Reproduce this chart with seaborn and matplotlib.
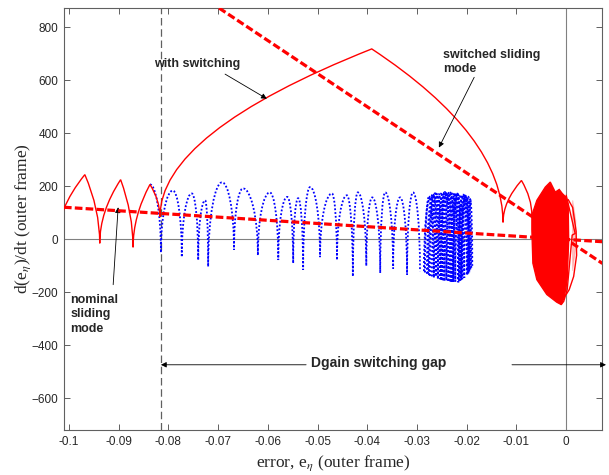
import matplotlib
matplotlib.use("Agg")
import matplotlib.pyplot as plt
from matplotlib.path import Path
from matplotlib.patches import PathPatch
import pandas as pd
import seaborn as sns

sns.set_style("ticks")
plt.rcParams["font.family"] = ["Liberation Sans", "DejaVu Sans"]
plt.rcParams["mathtext.fontset"] = "stix"

RED = "#ff0000"
BLUE = "#0000ff"
GREY = "#606060"

# sliding-mode lines (end points)
nominal_x = [-0.101, 0.0073]
nominal_y = [121, -9]
switched_x = [-0.0698, 0.0073]
switched_y = [872, -91]

# trajectory with D-gain switching: turning points (troughs / cusps)
switch_x = [-0.1025, -0.0968, -0.0938, -0.0896, -0.0871, -0.0837, -0.0817,
            -0.0391, -0.0127, -0.0090, -0.0069]
switch_y = [-20, 244, -15, 225, -30, 207, 85, 718, 64, 222, 90]

# limit-cycle region of the switched trajectory near the origin
cycle_x = [-0.0069, -0.0059, -0.0042, -0.0032, -0.0022, -0.0014, -0.0008, 0.0000,
           0.0004, 0.0005, 0.0002, -0.0004, -0.0010, -0.0019, -0.0039, -0.0059,
           -0.0067, -0.0069]
cycle_y = [91, 147, 197, 216, 178, 188, 173, 158, 128, -3, -152, -220, -246,
           -237, -208, -152, -90, 35]
outer_loop1_x = [-0.0010, -0.0005, 0.0002, 0.0012, 0.0018, 0.0018, 0.0012, 0.0000]
outer_loop1_y = [-246, -234, -190, -115, -28, 72, 147, 166]
outer_loop2_x = [0.0004, 0.0013, 0.0020, 0.0021, 0.0015, 0.0006, 0.0000]
outer_loop2_y = [150, 120, 30, -60, -140, -190, -208]

# trajectory without switching: alternating peaks and troughs
plain_x = [-0.0837, -0.0815, -0.0791, -0.0773, -0.0753, -0.0740, -0.0726, -0.0720,
           -0.0692, -0.0668, -0.0650, -0.0620, -0.0596, -0.0579, -0.0561, -0.0549,
           -0.0539, -0.0529, -0.0515, -0.0495, -0.0471, -0.0461, -0.0441, -0.0429,
           -0.0419, -0.0402, -0.0390, -0.0374, -0.0364, -0.0348, -0.0334, -0.0320,
           -0.0308, -0.0294]
plain_y = [207, -50, 184, -67, 173, -78, 147, -103, 215, -40, 192, -60, 177, -78,
           160, -90, 155, -115, 197, -67, 173, -78, 166, -140, 177, -100, 158, -127,
           177, -110, 158, -134, 177, -120]

# dense oscillation of the unswitched trajectory (several passes)
pass_a_x = [-0.0286, -0.0272, -0.0262, -0.0252, -0.0241, -0.0233, -0.0223, -0.0215,
            -0.0205, -0.0197, -0.0191]
pass_a_y = [-120, 165, -140, 172, -155, 176, -160, 170, -145, 160, -115]
pass_b_x = [-0.0280, -0.0268, -0.0258, -0.0248, -0.0237, -0.0229, -0.0217, -0.0209,
            -0.0199, -0.0193, -0.0189]
pass_b_y = [-130, 170, -150, 175, -160, 172, -162, 168, -135, 150, -100]
pass_c_x = [-0.0276, -0.0264, -0.0252, -0.0244, -0.0231, -0.0223, -0.0213, -0.0205,
            -0.0195]
pass_c_y = [-135, 173, -155, 178, -163, 174, -155, 165, -125]
pass_d_x = [-0.0270, -0.0260, -0.0248, -0.0239, -0.0227, -0.0219, -0.0209, -0.0201,
            -0.0193]
pass_d_y = [-140, 170, -158, 175, -160, 172, -150, 162, -120]
pass_e_x = [-0.0284, -0.0276, -0.0266, -0.0256, -0.0245, -0.0235, -0.0227, -0.0219,
            -0.0211, -0.0201, -0.0193]
pass_e_y = [-125, 160, -145, 170, -158, 178, -163, 174, -150, 165, -118]
pass_f_x = [-0.0278, -0.0266, -0.0254, -0.0245, -0.0233, -0.0225, -0.0215, -0.0207,
            -0.0197, -0.0191]
pass_f_y = [-128, 168, -150, 176, -162, 176, -160, 168, -130, 150]
pass_g_x = [-0.0274, -0.0262, -0.0250, -0.0241, -0.0229, -0.0221, -0.0211, -0.0203,
            -0.0195]
pass_g_y = [-138, 172, -156, 177, -163, 175, -152, 164, -122]

x_ticks = [-0.1, -0.09, -0.08, -0.07, -0.06, -0.05, -0.04, -0.03, -0.02, -0.01, 0]
x_tick_labels = ["-0.1", "-0.09", "-0.08", "-0.07", "-0.06", "-0.05", "-0.04",
                 "-0.03", "-0.02", "-0.01", "0"]
y_ticks = [-600, -400, -200, 0, 200, 400, 600, 800]
gap_start = -0.0815


def cusp_path(xs, ys):
    """Phase-plane arcs: vertical tangent at each trough, pointed at each peak."""
    verts = [(xs[0], ys[0])]
    codes = [Path.MOVETO]
    for x0, y0, x1, y1 in zip(xs[:-1], ys[:-1], xs[1:], ys[1:]):
        cx = x0 if y0 < y1 else x1
        verts += [(cx, (y0 + y1) / 2.0), (x1, y1)]
        codes += [Path.CURVE3, Path.CURVE3]
    return Path(verts, codes)


def round_path(xs, ys):
    """Phase-plane arcs: vertical at each trough, rounded over each peak."""
    verts = [(xs[0], ys[0])]
    codes = [Path.MOVETO]
    for x0, y0, x1, y1 in zip(xs[:-1], ys[:-1], xs[1:], ys[1:]):
        if y0 < y1:
            c1 = (x0, y0 + 0.6 * (y1 - y0))
            c2 = (x1 - 0.5 * (x1 - x0), y1)
        else:
            c1 = (x0 + 0.5 * (x1 - x0), y0)
            c2 = (x1, y1 + 0.6 * (y0 - y1))
        verts += [c1, c2, (x1, y1)]
        codes += [Path.CURVE4] * 3
    return Path(verts, codes)


fig = plt.figure(figsize=(6.09, 4.75), dpi=100)
ax = fig.add_axes([0.105, 0.0947, 0.8835, 0.8883])

ax.axhline(0, color="#808080", lw=0.8, zorder=1)
ax.axvline(0, color="#808080", lw=0.8, zorder=1)
ax.axvline(gap_start, color=GREY, lw=0.9, linestyle=(0, (6, 3)), zorder=1)

dotted = (0, (1.0, 1.1))
ax.add_patch(PathPatch(round_path(plain_x, plain_y), fill=False, ec=BLUE, lw=1.3,
                       linestyle=dotted, zorder=2))
for px, py in [(pass_a_x, pass_a_y), (pass_b_x, pass_b_y), (pass_c_x, pass_c_y),
               (pass_d_x, pass_d_y), (pass_e_x, pass_e_y), (pass_f_x, pass_f_y),
               (pass_g_x, pass_g_y)]:
    ax.add_patch(PathPatch(round_path(px, py), fill=False, ec=BLUE, lw=1.4,
                           linestyle=dotted, zorder=2))

ax.add_patch(PathPatch(cusp_path(switch_x, switch_y), fill=False, ec=RED, lw=1.0,
                       zorder=3))
ax.fill(cycle_x, cycle_y, color=RED, lw=1.0, zorder=3)
for lx, ly in [(outer_loop1_x, outer_loop1_y), (outer_loop2_x, outer_loop2_y)]:
    sns.lineplot(x=lx, y=ly, sort=False, color=RED, lw=1.0, ax=ax, zorder=3)

dashed = (0, (2.4, 1.0))
sns.lineplot(x=nominal_x, y=nominal_y, sort=False, color=RED, lw=2.3,
             linestyle=dashed, ax=ax, zorder=4)
sns.lineplot(x=switched_x, y=switched_y, sort=False, color=RED, lw=2.3,
             linestyle=dashed, ax=ax, zorder=4)

ax.set_xlim(-0.101, 0.0072)
ax.set_ylim(-719, 872)
ax.set_xticks(x_ticks)
ax.set_xticklabels(x_tick_labels)
ax.set_yticks(y_ticks)
ax.tick_params(direction="in", top=True, right=True, length=4, width=0.7,
               color=GREY, labelsize=8.5, pad=4)
for s in ax.spines.values():
    s.set_color(GREY)
    s.set_linewidth(0.8)

serif = ["Liberation Serif", "DejaVu Serif"]
ax.set_xlabel(r"error, e$_{\eta}$ (outer frame)", family=serif, fontsize=12.5,
              labelpad=4)
ax.set_ylabel(r"d(e$_{\eta}$)/dt (outer frame)", family=serif, fontsize=12.5,
              labelpad=-1)

arrow = dict(arrowstyle="-|>", color="black", lw=0.6, mutation_scale=8,
             shrinkA=0, shrinkB=0)
bold = dict(fontsize=9, fontweight="bold", ha="left", va="center",
            linespacing=1.25)

ax.text(-0.0829, 660, "with switching", **bold)
ax.annotate("", xy=(-0.0602, 530), xytext=(-0.0686, 623), arrowprops=arrow)

ax.text(-0.0247, 670, "switched sliding\nmode", **bold)
ax.annotate("", xy=(-0.0256, 346), xytext=(-0.0185, 611), arrowprops=arrow)

ax.text(-0.0997, -283, "nominal\nsliding\nmode", **bold)
ax.annotate("", xy=(-0.0901, 121), xytext=(-0.0911, -171), arrowprops=arrow)

ax.text(-0.0513, -465, "Dgain switching gap", fontsize=10, fontweight="bold",
        ha="left", va="center")
ax.annotate("", xy=(gap_start, -473), xytext=(-0.0523, -473), arrowprops=arrow)
ax.annotate("", xy=(0.0080, -473), xytext=(-0.0109, -473), arrowprops=arrow,
            annotation_clip=False)

fig.savefig("out.png", dpi=100)
